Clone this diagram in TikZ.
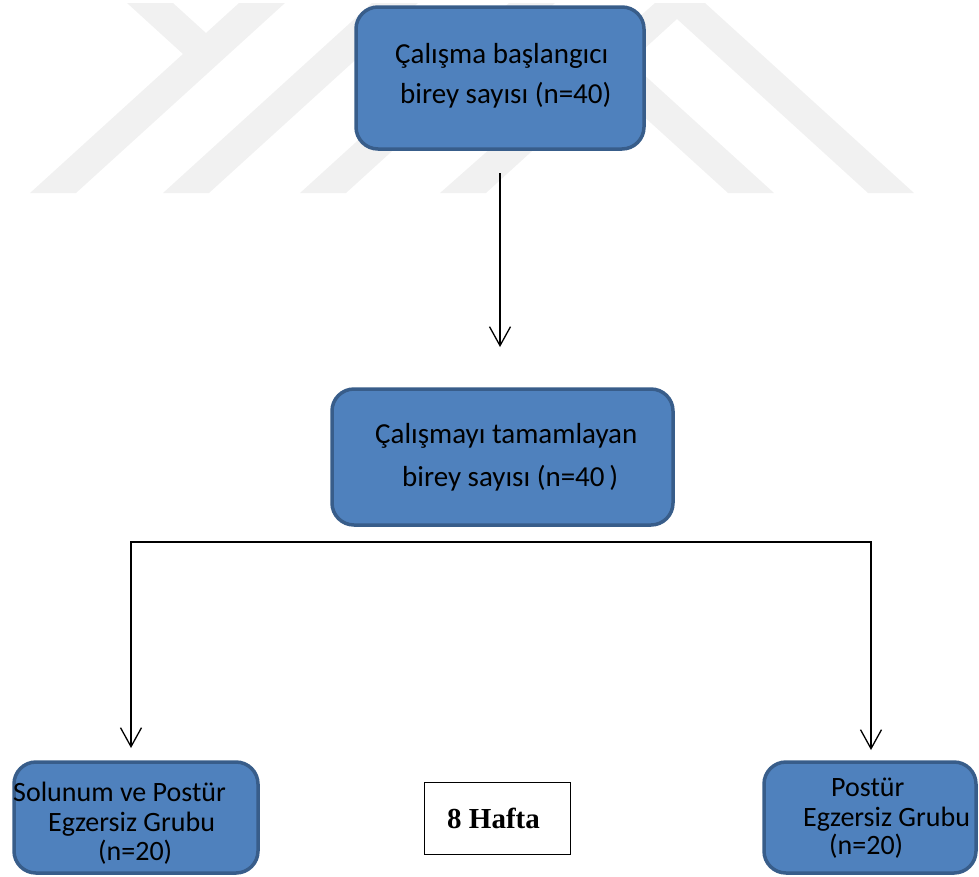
\documentclass[tikz,border=0pt]{standalone}
\usepackage{fontspec}
\newfontfamily\carlito{Carlito}
\newfontfamily\libserif{Liberation Serif}
\usetikzlibrary{arrows.meta}
\definecolor{boxfill}{HTML}{4F81BD}
\definecolor{boxborder}{HTML}{385D8A}
\definecolor{wmark}{RGB}{241,241,241}
\tikzset{
  flowbox/.style={draw=boxborder, line width=3.5pt, fill=boxfill, rounded corners=22pt, inner sep=0pt, outer sep=0pt},
  weekbox/.style={draw=black, line width=1.2pt, fill=white, inner sep=0pt, minimum width=146pt, minimum height=72pt},
  boxtext/.style={font=\carlito\fontsize{29}{34}\selectfont, text=black, inner sep=0pt, anchor=base west},
  smalltext/.style={font=\carlito\fontsize{28}{32}\selectfont, text=black, inner sep=0pt, anchor=base west},
  weektext/.style={font=\libserif\bfseries\fontsize{29}{34}\selectfont, text=black, inner sep=0pt, anchor=base},
  conn/.style={draw=black, line width=1.6pt, line cap=rect},
  arr/.style={draw=black, line width=1.6pt, -{Straight Barb[length=19pt, width=21pt, line width=1.3pt]}},
  wm/.style={fill=wmark, draw=none},
}
\begin{document}
\begin{tikzpicture}[x=1pt,y=-1pt]
\useasboundingbox (0,0) rectangle (979,876);
% faint watermark
\begin{scope}
\clip (0,0) rectangle (979,876);
\fill[wm] (30,193) -- (76,193) -- (285,3) -- (239,3) -- cycle;
\fill[wm] (127,3) -- (173,3) -- (206,33) -- (206,75) -- cycle;
\fill[wm] (163,193) -- (209,193) -- (418,3) -- (372,3) -- cycle;
\fill[wm] (300,193) -- (346,193) -- (555,3) -- (509,3) -- cycle;
\fill[wm] (440,193) -- (486,193) -- (677,19) -- (868,193) -- (914,193) -- (705,3) -- (655,3) -- cycle;
\fill[wm] (728,193) -- (774,193) -- (630,62) -- (607,83) -- cycle;
\end{scope}
% boxes
\node[flowbox, minimum width=288pt, minimum height=142pt] (b1) at (500,78) {};
\node[flowbox, minimum width=341pt, minimum height=136pt] (b2) at (502.5,457) {};
\node[flowbox, minimum width=244pt, minimum height=111pt] (bL) at (136,817.5) {};
\node[flowbox, minimum width=212pt, minimum height=111pt] (bR) at (870,817.5) {};
\node[weekbox] (wk) at (497.5,818.5) {};
% texts
\node[boxtext] (t1a) at (395,63) {Çalışma başlangıcı};
\node[boxtext] (t1b) at (400,103) {birey sayısı (n=40)};
\node[boxtext] (t2a) at (375,443) {Çalışmayı tamamlayan};
\node[boxtext] (t2b) at (402,486) {birey sayısı (n=40\,)};
\node[smalltext] (tLa) at (13,801) {Solunum ve Postür};
\node[smalltext] (tLb) at (48,831) {Egzersiz Grubu};
\node[smalltext] (tLc) at (98,860) {(n=20)};
\node[smalltext] (tRa) at (831,796) {Postür};
\node[smalltext] (tRb) at (803,826) {Egzersiz Grubu};
\node[smalltext] (tRc) at (829,854) {(n=20)};
\node[weektext] (wkt) at (493.5,828) {8 Hafta};
% connectors
\draw[arr, shorten <=24pt, shorten >=42pt] (b1.south) -- (b1.south |- b2.north);
\coordinate (jL) at (131,542);
\coordinate (jR) at (871,542);
\draw[conn] (jL) -- (jR);
\draw[arr, shorten >=14pt] (jL) -- (jL |- bL.north);
\draw[arr, shorten >=12pt] (jR) -- (jR |- bR.north);
\end{tikzpicture}
\end{document}
